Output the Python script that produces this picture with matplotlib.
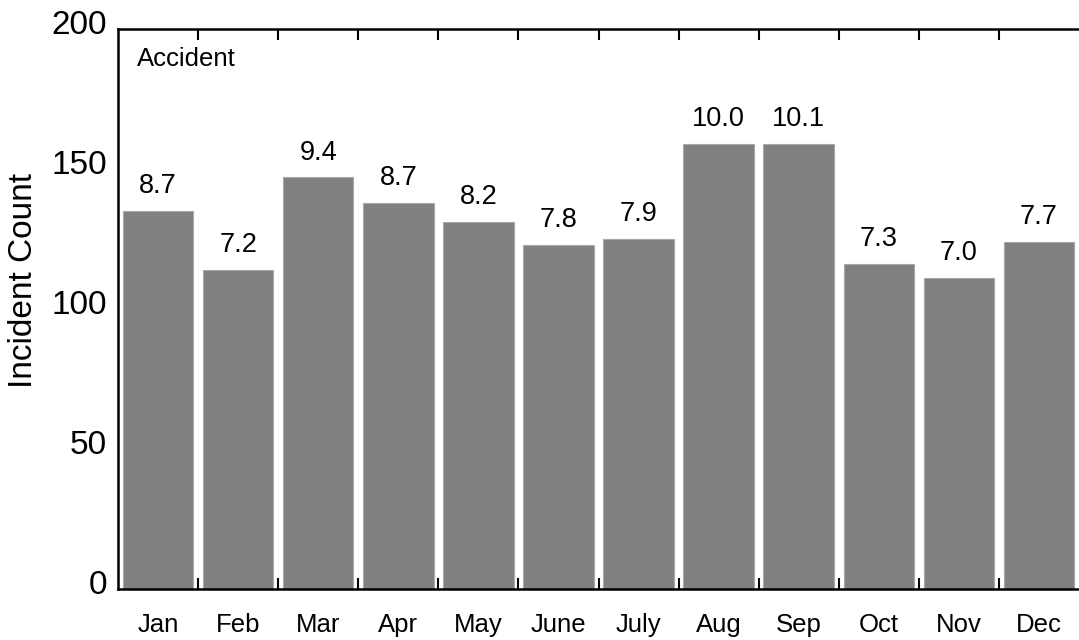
import numpy as np
import matplotlib.pyplot as plt
from matplotlib.ticker import FixedLocator
import matplotlib.transforms as mtransforms

plt.rcParams['font.family'] = ['Liberation Sans', 'DejaVu Sans']

months = ['Jan', 'Feb', 'Mar', 'Apr', 'May', 'June', 'July',
          'Aug', 'Sep', 'Oct', 'Nov', 'Dec']
counts = [135, 114, 147, 138, 131, 123, 125, 159, 159, 116, 111, 124]
rates = [8.7, 7.2, 9.4, 8.7, 8.2, 7.8, 7.9, 10.0, 10.1, 7.3, 7.0, 7.7]

fig = plt.figure(figsize=(10.79, 6.4), dpi=100)
ax = fig.add_axes([118 / 1079, 51 / 640, 961 / 1079, 560 / 640])

x = np.arange(len(months))
bars = ax.bar(x, counts, width=0.88, color='#808080',
              edgecolor='#a8a8a8', linewidth=0.8)

# rate labels above each bar
for xi, c, r in zip(x, counts, rates):
    ax.annotate('{:.1f}'.format(r), (xi, c), xytext=(0, 8.5),
                textcoords='offset points', ha='center', va='bottom',
                fontsize=19.5)

ax.text(0.02, 0.968, 'Accident', transform=ax.transAxes,
        ha='left', va='top', fontsize=18.5)

ax.set_xlim(-0.5, len(months) - 0.5)
ax.set_ylim(0, 200)
ax.set_yticks([0, 50, 100, 150, 200])
ax.set_xticks(x)
ax.set_xticklabels(months, fontsize=18.5)
ax.xaxis.set_minor_locator(FixedLocator(x[:-1] + 0.5))
ax.tick_params(axis='x', which='major', length=0, pad=17)
ax.tick_params(axis='x', which='minor', direction='in', length=8,
               width=1.5, top=True, bottom=True)
ax.tick_params(axis='y', length=0, pad=8, labelsize=24)

# nudge y labels up a little like the reference
offset = mtransforms.ScaledTranslation(0, 5 / 72, fig.dpi_scale_trans)
for lab in ax.get_yticklabels():
    lab.set_transform(lab.get_transform() + offset)

ax.set_ylabel('Incident Count', fontsize=24)
ax.yaxis.set_label_coords(-0.082, 0.55)

for side in ['left', 'top', 'bottom']:
    ax.spines[side].set_linewidth(1.8)
ax.spines['right'].set_visible(False)

plt.savefig('out.png', dpi=100)
